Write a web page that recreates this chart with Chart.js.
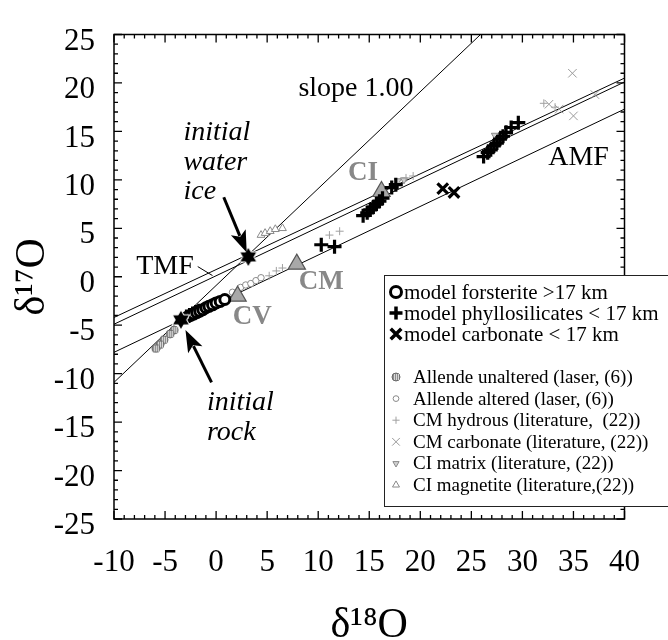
<!DOCTYPE html>
<html>
<head>
<meta charset="utf-8">
<script src="https://cdn.jsdelivr.net/npm/chart.js@4.4.1/dist/chart.umd.min.js"></script>
<style>
  html, body { margin: 0; padding: 0; background: #fff; }
  canvas { display: block; }
</style>
</head>
<body>
<canvas id="oxygenChart" width="668" height="640"></canvas>
<script>
// δ18O / δ17O values (per mil)
const xTickValues = [-10, -5, 0, 5, 10, 15, 20, 25, 30, 35, 40];
const yTickValues = [-25, -20, -15, -10, -5, 0, 5, 10, 15, 20, 25];

// model points
const modelForsterite = [[-3.1, -4.3], [-2.8, -4.15], [-2.5, -4.0], [-2.2, -3.85], [-1.9, -3.7], [-1.6, -3.55],
  [-1.3, -3.4], [-1.0, -3.2], [-0.7, -3.05], [-0.35, -2.9], [0.0, -2.7], [0.4, -2.55], [0.85, -2.35]];
const modelPhyllosilicates = [[-2.9, -4.1], [-2.6, -3.95], [-2.3, -3.8], [-2.0, -3.65], [-1.7, -3.5], [10.3, 3.3], [11.6, 3.1],
  [14.4, 6.3], [14.8, 6.6], [15.1, 6.9], [15.4, 7.2], [15.7, 7.5], [16.0, 7.8], [16.3, 8.1], [17.2, 9.2], [17.6, 9.5],
  [26.2, 12.4], [26.6, 12.8], [26.9, 13.1], [27.2, 13.5], [27.5, 13.8], [27.8, 14.2], [28.1, 14.5], [28.4, 14.9],
  [28.9, 15.4], [29.6, 15.9]];
const modelCarbonate = [[22.2, 9.1], [23.3, 8.7]];

// measured / literature points
const allendeUnaltered = [[-4.1, -5.5], [-4.5, -5.9], [-5.1, -6.5], [-5.5, -7.0], [-5.9, -7.4]];
const allendeAltered = [[1.6, -1.6], [2.4, -1.1], [2.9, -0.85], [3.4, -0.7], [3.9, -0.4], [4.4, -0.1]];
const cmHydrous = [[5.2, 0.1], [5.9, 0.6], [6.5, 0.9], [11.1, 4.3], [12.1, 4.7], [18.6, 10.2], [19.3, 10.4],
  [32.1, 17.9], [33.2, 17.5]];
const cmCarbonate = [[34.9, 21.0], [37.1, 18.8], [35.0, 16.6], [33.6, 17.3], [32.6, 17.8]];
const ciMatrix = [[17.8, 9.9], [18.4, 10.0], [27.3, 14.6]];
const ciMagnetite = [[4.4, 4.3], [4.8, 4.5], [5.3, 4.7], [5.8, 4.9], [6.5, 5.0]];

// bulk meteorites (CI, CM, CV) and the two starting compositions
const bulkMeteorites = [[16.2, 8.8], [7.9, 1.3], [2.1, -2.0]];
const initialRock = [[-3.45, -4.45]];
const initialWaterIce = [[3.15, 2.05]];

// reference lines
const tmfUpper = [[-10, -4.2], [40, 20.5]];
const tmfLower = [[-10, -4.9], [40, 20.1]];
const amfLine = [[-10, -7.8], [40, 17.3]];
const slopeOneLine = [[-10, -10.9], [25.9, 25]];

const FONT = '"Liberation Serif", "Times New Roman", serif';
const toPoints = arr => arr.map(p => ({ x: p[0], y: p[1] }));

// six-pointed star used for the initial compositions
function makeStar(r) {
  const c = document.createElement('canvas');
  c.width = c.height = 2 * r + 4;
  const g = c.getContext('2d');
  const cx = r + 2, cy = r + 2;
  const tri = rot => {
    g.beginPath();
    for (let k = 0; k < 3; k++) {
      const a = rot - Math.PI / 2 + k * 2 * Math.PI / 3;
      const px = cx + r * Math.cos(a), py = cy + r * Math.sin(a);
      k === 0 ? g.moveTo(px, py) : g.lineTo(px, py);
    }
    g.closePath();
  };
  g.strokeStyle = '#fff'; g.lineWidth = 2;
  tri(0); g.stroke(); tri(Math.PI); g.stroke();
  g.fillStyle = '#000';
  tri(0); g.fill(); tri(Math.PI); g.fill();
  return c;
}

// small hatched grey disc (Allende unaltered)
function makeHatched(r) {
  const c = document.createElement('canvas');
  c.width = c.height = 2 * r + 2;
  const g = c.getContext('2d');
  g.beginPath(); g.arc(r + 1, r + 1, r, 0, Math.PI * 2);
  g.fillStyle = '#8d8d8d'; g.fill();
  g.strokeStyle = '#6a6a6a'; g.lineWidth = 1; g.stroke();
  g.strokeStyle = '#d8d8d8';
  g.beginPath();
  for (let dx = -2; dx <= 2; dx += 2) { g.moveTo(r + 1 + dx + 0.5, 2); g.lineTo(r + 1 + dx + 0.5, 2 * r); }
  g.stroke();
  return c;
}

const starImg = makeStar(9);
const hatchImg = makeHatched(4);

const styles = {
  forsterite: { pointStyle: 'circle', radius: 5, borderWidth: 3, borderColor: '#000', backgroundColor: '#fff' },
  phyllo: { pointStyle: 'cross', radius: 7, borderWidth: 3.2, borderColor: '#000', backgroundColor: '#000' },
  carbonate: { pointStyle: 'crossRot', radius: 7.5, borderWidth: 3.2, borderColor: '#000', backgroundColor: '#000' },
  unaltered: { pointStyle: hatchImg, radius: 4, borderWidth: 1, borderColor: '#777', backgroundColor: '#8d8d8d' },
  altered: { pointStyle: 'circle', radius: 3.2, borderWidth: 1, borderColor: '#8a8a8a', backgroundColor: '#fff' },
  hydrous: { pointStyle: 'cross', radius: 4, borderWidth: 1, borderColor: '#a0a0a0', backgroundColor: '#a0a0a0' },
  cmCarb: { pointStyle: 'crossRot', radius: 6, borderWidth: 1, borderColor: '#9a9a9a', backgroundColor: '#9a9a9a' },
  matrix: { pointStyle: 'triangle', rotation: 180, radius: 4, borderWidth: 1, borderColor: '#8a8a8a', backgroundColor: '#d0d0d0' },
  magnetite: { pointStyle: 'triangle', radius: 4.5, borderWidth: 1, borderColor: '#8a8a8a', backgroundColor: '#fff' },
  bulk: { pointStyle: 'triangle', radius: 10, borderWidth: 1.2, borderColor: '#555', backgroundColor: '#a8a8a8' },
  star: { pointStyle: starImg, radius: 9, borderWidth: 0, borderColor: '#000', backgroundColor: '#000' }
};

function scatterSet(label, values, st) {
  return {
    label, data: toPoints(values), showLine: false,
    pointStyle: st.pointStyle, pointRadius: st.radius, pointRotation: st.rotation || 0,
    pointBorderWidth: st.borderWidth, pointBorderColor: st.borderColor, pointBackgroundColor: st.backgroundColor,
    order: 1
  };
}
function lineSet(label, values) {
  return {
    label, data: toPoints(values), showLine: true, pointRadius: 0,
    borderColor: '#000', borderWidth: 1, fill: false, order: 5
  };
}

const datasets = [
  scatterSet('initial water ice', initialWaterIce, styles.star),
  scatterSet('initial rock', initialRock, styles.star),
  scatterSet('model carbonate < 17 km', modelCarbonate, styles.carbonate),
  scatterSet('model forsterite >17 km', modelForsterite, styles.forsterite),
  scatterSet('model phyllosilicates < 17 km', modelPhyllosilicates, styles.phyllo),
  scatterSet('bulk CI CM CV', bulkMeteorites, styles.bulk),
  scatterSet('Allende unaltered (laser, (6))', allendeUnaltered, styles.unaltered),
  scatterSet('Allende altered (laser, (6))', allendeAltered, styles.altered),
  scatterSet('CM hydrous (literature,  (22))', cmHydrous, styles.hydrous),
  scatterSet('CM carbonate (literature, (22))', cmCarbonate, styles.cmCarb),
  scatterSet('CI matrix (literature, (22))', ciMatrix, styles.matrix),
  scatterSet('CI magnetite (literature,(22))', ciMagnetite, styles.magnetite),
  lineSet('TMF upper', tmfUpper),
  lineSet('TMF lower', tmfLower),
  lineSet('AMF', amfLine),
  lineSet('slope 1.00', slopeOneLine)
];

// text placed in data units
const annotations = [
  { text: 'slope 1.00', x: 13.7, y: 19.4, font: '28px ' + FONT, color: '#000', align: 'center' },
  { text: 'AMF', x: 35.5, y: 12.3, font: '28px ' + FONT, color: '#000', align: 'center' },
  { text: 'TMF', x: -5.0, y: 1.0, font: '28px ' + FONT, color: '#000', align: 'center' },
  { text: 'CI', x: 14.4, y: 10.7, font: 'bold 27px ' + FONT, color: '#888', align: 'center' },
  { text: 'CM', x: 10.3, y: -0.5, font: 'bold 27px ' + FONT, color: '#888', align: 'center' },
  { text: 'CV', x: 3.55, y: -4.2, font: 'bold 27px ' + FONT, color: '#888', align: 'center' },
  { text: 'initial', x: -3.2, y: 14.9, font: 'italic 28px ' + FONT, color: '#000', align: 'left' },
  { text: 'water', x: -3.2, y: 11.8, font: 'italic 28px ' + FONT, color: '#000', align: 'left' },
  { text: 'ice', x: -3.2, y: 8.8, font: 'italic 28px ' + FONT, color: '#000', align: 'left' },
  { text: 'initial', x: -0.9, y: -13.0, font: 'italic 28px ' + FONT, color: '#000', align: 'left' },
  { text: 'rock', x: -0.9, y: -16.1, font: 'italic 28px ' + FONT, color: '#000', align: 'left' }
];
const arrows = [
  { from: [0.75, 8.2], to: [3.0, 2.5] },
  { from: [-0.45, -10.9], to: [-3.0, -5.5] }
];
const tmfLeader = [[-1.8, 1.05], [-0.35, 0.12]];

const legendGroupA = [
  { label: 'model forsterite >17 km', st: styles.forsterite, legendRadius: 5.5, legendWidth: 3 },
  { label: 'model phyllosilicates < 17 km', st: styles.phyllo, legendRadius: 6.5, legendWidth: 3.5 },
  { label: 'model carbonate < 17 km', st: styles.carbonate, legendRadius: 7.5, legendWidth: 3.5 }
];
const legendGroupB = [
  { label: 'Allende unaltered (laser, (6))', st: styles.unaltered },
  { label: 'Allende altered (laser, (6))', st: styles.altered },
  { label: 'CM hydrous (literature,  (22))', st: styles.hydrous },
  { label: 'CM carbonate (literature, (22))', st: styles.cmCarb },
  { label: 'CI matrix (literature, (22))', st: styles.matrix },
  { label: 'CI magnetite (literature,(22))', st: styles.magnetite }
];

const overlayPlugin = {
  id: 'overlay',
  afterDatasetsDraw(chart) {
    const { ctx, chartArea: a, scales: { x, y } } = chart;
    const px = v => x.getPixelForValue(v), py = v => y.getPixelForValue(v);
    ctx.save();

    // frame with inward ticks on all four sides
    ctx.strokeStyle = '#000';
    ctx.lineWidth = 1.5;
    ctx.strokeRect(a.left, a.top, a.right - a.left, a.bottom - a.top);
    ctx.lineWidth = 1.3;
    ctx.beginPath();
    for (let v = xTickValues[0]; v <= xTickValues[xTickValues.length - 1]; v++) {
      const len = v % 5 === 0 ? 8 : 4, p = px(v);
      ctx.moveTo(p, a.bottom); ctx.lineTo(p, a.bottom - len);
      ctx.moveTo(p, a.top); ctx.lineTo(p, a.top + len);
    }
    for (let v = yTickValues[0]; v <= yTickValues[yTickValues.length - 1]; v++) {
      const len = v % 5 === 0 ? 8 : 4, p = py(v);
      ctx.moveTo(a.left, p); ctx.lineTo(a.left + len, p);
      ctx.moveTo(a.right, p); ctx.lineTo(a.right - len, p);
    }
    ctx.stroke();

    // text labels
    ctx.textBaseline = 'middle';
    annotations.forEach(t => {
      ctx.font = t.font; ctx.fillStyle = t.color; ctx.textAlign = t.align;
      ctx.fillText(t.text, px(t.x), py(t.y));
    });

    // TMF leader line
    ctx.lineWidth = 1;
    ctx.beginPath();
    ctx.moveTo(px(tmfLeader[0][0]), py(tmfLeader[0][1]));
    ctx.lineTo(px(tmfLeader[1][0]), py(tmfLeader[1][1]));
    ctx.stroke();

    // arrows
    arrows.forEach(ar => {
      const x0 = px(ar.from[0]), y0 = py(ar.from[1]), x1 = px(ar.to[0]), y1 = py(ar.to[1]);
      const ang = Math.atan2(y1 - y0, x1 - x0), head = 22, half = 8;
      const bx = x1 - head * Math.cos(ang), by = y1 - head * Math.sin(ang);
      ctx.lineWidth = 3;
      ctx.beginPath(); ctx.moveTo(x0, y0); ctx.lineTo(bx + 4 * Math.cos(ang), by + 4 * Math.sin(ang)); ctx.stroke();
      ctx.fillStyle = '#000';
      ctx.beginPath();
      ctx.moveTo(x1, y1);
      ctx.lineTo(bx - half * Math.sin(ang), by + half * Math.cos(ang));
      ctx.lineTo(bx + 5 * Math.cos(ang), by + 5 * Math.sin(ang));
      ctx.lineTo(bx + half * Math.sin(ang), by - half * Math.cos(ang));
      ctx.closePath(); ctx.fill();
    });

    // legend box
    const box = { left: 384, top: 275, bottom: 506 };
    ctx.fillStyle = '#fff';
    ctx.fillRect(box.left, box.top, 700 - box.left, box.bottom - box.top);
    ctx.strokeStyle = '#222'; ctx.lineWidth = 1;
    ctx.strokeRect(box.left + 0.5, box.top + 0.5, 700 - box.left, box.bottom - box.top);

    const mx = 396;
    ctx.textAlign = 'left';
    legendGroupA.forEach((e, i) => {
      const ly = 292 + i * 21;
      ctx.strokeStyle = e.st.borderColor; ctx.fillStyle = e.st.backgroundColor;
      ctx.lineWidth = e.legendWidth;
      Chart.helpers.drawPoint(ctx, { pointStyle: e.st.pointStyle, radius: e.legendRadius, rotation: 0, borderWidth: e.legendWidth }, mx, ly);
      ctx.fillStyle = '#000'; ctx.font = '21px ' + FONT;
      ctx.fillText(e.label, 404, ly + 1);
    });
    legendGroupB.forEach((e, i) => {
      const ly = 377 + i * 21.6;
      ctx.strokeStyle = e.st.borderColor; ctx.fillStyle = e.st.backgroundColor;
      ctx.lineWidth = e.st.borderWidth;
      Chart.helpers.drawPoint(ctx, { pointStyle: e.st.pointStyle, radius: e.st.radius * 0.9, rotation: e.st.rotation || 0, borderWidth: e.st.borderWidth }, mx, ly);
      ctx.fillStyle = '#000'; ctx.font = '19px ' + FONT;
      ctx.fillText(e.label, 413, ly + 1);
    });
    ctx.restore();
  }
};

const ctx = document.getElementById('oxygenChart').getContext('2d');
const chart = new Chart(ctx, {
  type: 'scatter',
  data: { datasets },
  options: {
    responsive: false,
    animation: false,
    devicePixelRatio: 1,
    layout: { padding: { top: 16, right: 26, left: 0, bottom: 0 } },
    plugins: { legend: { display: false }, tooltip: { enabled: false } },
    scales: {
      x: {
        type: 'linear', min: -10, max: 40,
        afterBuildTicks: s => { s.ticks = xTickValues.map(v => ({ value: v })); },
        afterFit: s => { s.height = 121; },
        grid: { display: false, drawTicks: false },
        border: { display: false },
        ticks: { font: { family: FONT, size: 31, lineHeight: 1 }, color: '#000', padding: 28, maxRotation: 0, autoSkip: false },
        title: { display: true, text: 'δ¹⁸O', color: '#000', font: { family: FONT, size: 42, lineHeight: 1 }, padding: { top: 0, bottom: -7 } }
      },
      y: {
        type: 'linear', min: -25, max: 25,
        afterBuildTicks: s => { s.ticks = yTickValues.map(v => ({ value: v })); },
        afterFit: s => { s.width = 114; },
        grid: { display: false, drawTicks: false },
        border: { display: false },
        ticks: { font: { family: FONT, size: 31, lineHeight: 1 }, color: '#000', padding: 19, labelOffset: 7, autoSkip: false },
        title: { display: true, text: 'δ¹⁷O', color: '#000', font: { family: FONT, size: 42, lineHeight: 1 }, padding: { top: 12, bottom: 0 } }
      }
    }
  },
  plugins: [overlayPlugin]
});
</script>
</body>
</html>
